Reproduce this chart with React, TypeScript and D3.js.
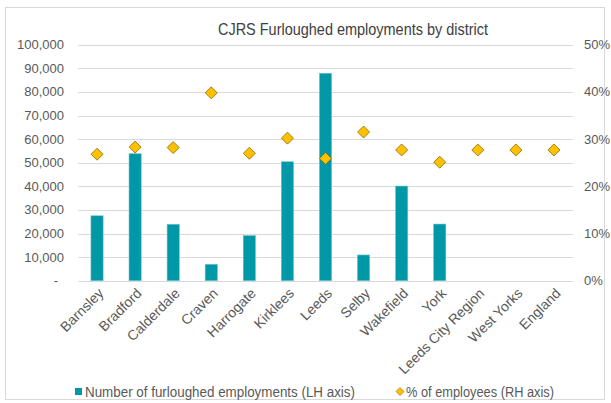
import React, { useEffect, useRef } from "react";
import * as d3 from "d3";

const categories = ["Barnsley", "Bradford", "Calderdale", "Craven", "Harrogate", "Kirklees", "Leeds", "Selby", "Wakefield", "York", "Leeds City Region", "West Yorks", "England"];
const furloughed: (number | null)[] = [27500, 53800, 23900, 6950, 19100, 50400, 87900, 10900, 40100, 24000, null, null, null];
const pctEmployees = [26.8, 28.3, 28.2, 39.8, 27.0, 30.2, 25.9, 31.5, 27.7, 25.1, 27.7, 27.7, 27.7];
const leftTicks = [0, 10000, 20000, 30000, 40000, 50000, 60000, 70000, 80000, 90000, 100000];
const rightTicks = [0, 10, 20, 30, 40, 50];

const W = 611, H = 403;
const FONT = "'Liberation Sans', Arial, sans-serif";

export default function App() {
  const ref = useRef<SVGSVGElement>(null);
  useEffect(() => {
    document.body.style.margin = "0";
    const svg = d3.select(ref.current);
    svg.selectAll("*").remove();
    const left = 78, right = 573, top = 44.7, bottom = 280.7;
    const x = d3.scaleBand<string>().domain(categories).range([left, right]);
    const yL = d3.scaleLinear().domain([0, 100000]).range([bottom, top]);
    const yR = d3.scaleLinear().domain([0, 50]).range([bottom, top]);

    svg.append("rect").attr("x", 5.5).attr("y", 7.5).attr("width", 599).attr("height", 392)
      .attr("fill", "white").attr("stroke", "#D9D9D9");

    svg.append("text").attr("x", 218).attr("y", 35)
      .attr("textLength", 270).attr("lengthAdjust", "spacingAndGlyphs")
      .attr("font-family", FONT).attr("font-size", 17).attr("fill", "#404040")
      .text("CJRS Furloughed employments by district");

    const g = svg.append("g");
    g.selectAll("line.grid").data(leftTicks).join("line")
      .attr("x1", left).attr("x2", right)
      .attr("y1", d => Math.round(yL(d)) + 0.5).attr("y2", d => Math.round(yL(d)) + 0.5)
      .attr("stroke", "#D9D9D9").attr("stroke-width", 1);

    g.selectAll("text.yl").data(leftTicks).join("text")
      .attr("x", 64).attr("y", d => yL(d)).attr("dy", "0.35em").attr("text-anchor", "end")
      .attr("font-family", FONT).attr("font-size", 13).attr("fill", "#595959")
      .text(d => d === 0 ? "-" : d3.format(",")(d))
      .attr("dx", d => d === 0 ? -6 : 0);

    g.selectAll("text.yr").data(rightTicks).join("text")
      .attr("x", 584).attr("y", d => yR(d)).attr("dy", "0.35em").attr("text-anchor", "start")
      .attr("font-family", FONT).attr("font-size", 13).attr("fill", "#595959")
      .text(d => d + "%");

    const bw = x.bandwidth() * 0.32;
    g.selectAll("rect.bar").data(categories.map((c, i) => ({ c, v: furloughed[i] })).filter(d => d.v != null))
      .join("rect")
      .attr("x", d => x(d.c)! + x.bandwidth() / 2 - bw / 2)
      .attr("y", d => yL(d.v as number))
      .attr("width", bw)
      .attr("height", d => bottom - yL(d.v as number))
      .attr("fill", "#0097A7").attr("stroke", "#6CC3CC").attr("stroke-width", 0.6);

    const s = 6;
    g.selectAll("path.dia").data(categories.map((c, i) => ({ c, v: pctEmployees[i] })))
      .join("path")
      .attr("transform", d => `translate(${x(d.c)! + x.bandwidth() / 2},${yR(d.v)})`)
      .attr("d", `M0,${-s}L${s},0L0,${s}L${-s},0Z`)
      .attr("fill", "#FFC000").attr("stroke", "#8A6A00").attr("stroke-width", 0.8);

    g.selectAll("text.xl").data(categories).join("text")
      .attr("transform", d => `translate(${x(d)! + x.bandwidth() / 2 + 4},${bottom + 10}) rotate(-45)`)
      .attr("text-anchor", "end").attr("dy", "0.35em")
      .attr("font-family", FONT).attr("font-size", 14).attr("fill", "#595959")
      .text(d => d);

    // legend
    const lg = svg.append("g");
    lg.append("rect").attr("x", 75).attr("y", 388).attr("width", 7).attr("height", 7).attr("fill", "#0097A7");
    lg.append("text").attr("x", 85).attr("y", 396.5).attr("font-family", FONT).attr("font-size", 14)
      .attr("textLength", 270).attr("lengthAdjust", "spacingAndGlyphs")
      .attr("fill", "#595959").text("Number of furloughed employments (LH axis)");
    lg.append("path").attr("transform", "translate(400,391.5)").attr("d", "M0,-4L4,0L0,4L-4,0Z")
      .attr("fill", "#FFC000").attr("stroke", "#8A6A00").attr("stroke-width", 0.6);
    lg.append("text").attr("x", 406).attr("y", 396.5).attr("font-family", FONT).attr("font-size", 14)
      .attr("textLength", 148).attr("lengthAdjust", "spacingAndGlyphs")
      .attr("fill", "#595959").text("% of employees (RH axis)");
  }, []);
  return <svg ref={ref} width={W} height={H} style={{ display: "block" }} />;
}
